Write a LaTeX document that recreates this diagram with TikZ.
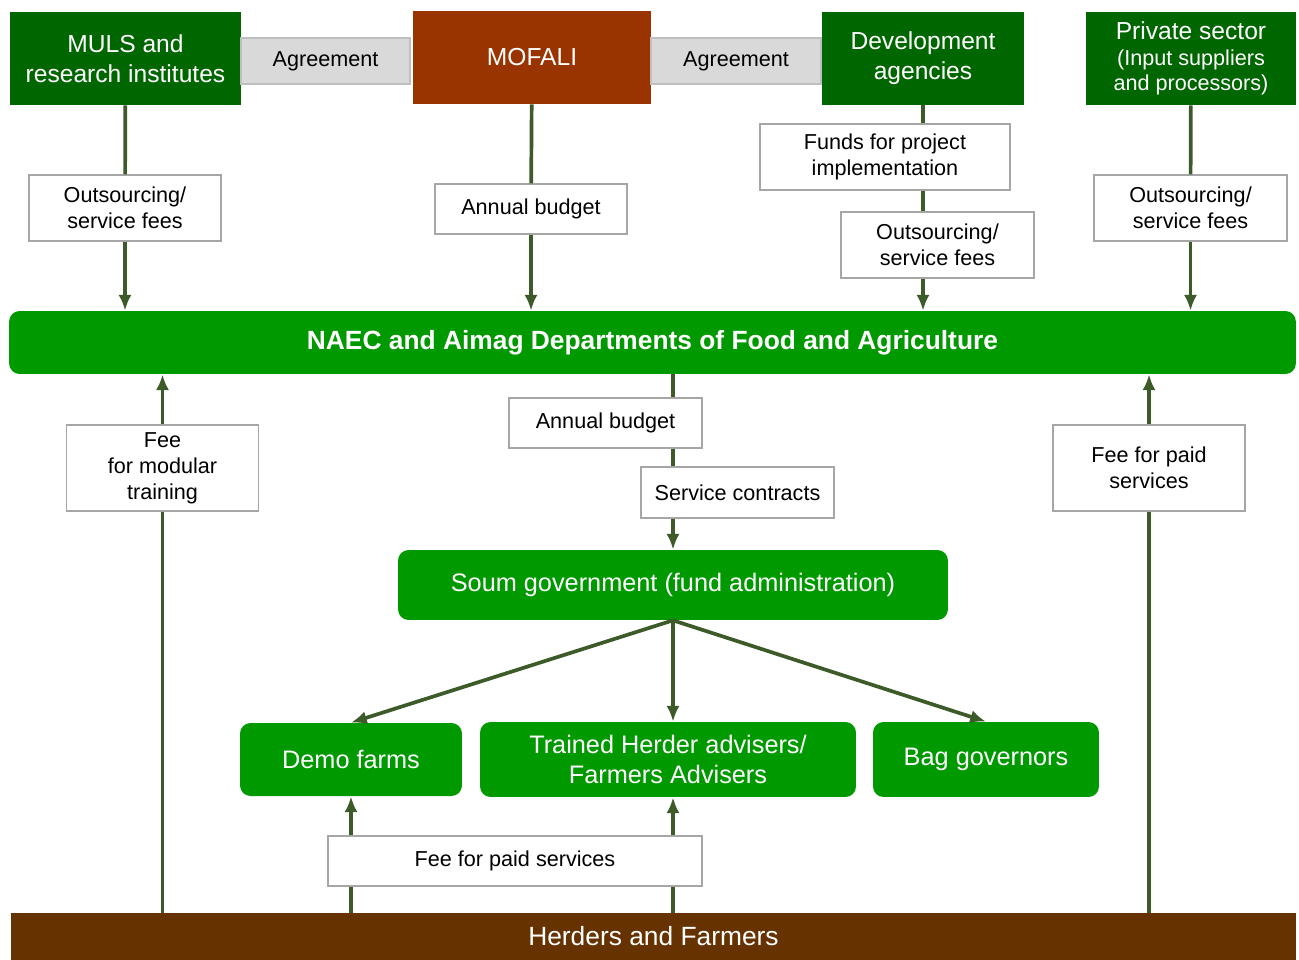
\documentclass[tikz,border=0pt]{standalone}
\usepackage{fontspec}
\setmainfont{Liberation Sans}
\usetikzlibrary{arrows.meta, positioning}
\definecolor{darkgreen}{RGB}{0,102,0}
\definecolor{midgreen}{RGB}{0,153,0}
\definecolor{rust}{RGB}{153,51,0}
\definecolor{soil}{RGB}{102,51,0}
\definecolor{flow}{RGB}{61,90,41}
\definecolor{agreegray}{RGB}{217,217,217}

\begin{document}
\begin{tikzpicture}[
    x=0.02cm, y=-0.02cm,
    >={Latex[length=9pt,width=7.5pt]},
    actor/.style={rectangle, fill=darkgreen, text=white, minimum height=1.86cm, inner sep=2pt, align=center, font=\fontsize{14}{17}\selectfont},
    agree/.style={rectangle, draw=gray!50, fill=agreegray, line width=0.8pt, minimum height=0.92cm, align=center, font=\fontsize{12.3}{14.7}\selectfont},
    tag/.style={rectangle, draw=gray!70, fill=white, line width=0.8pt, minimum width=3.84cm, minimum height=1.32cm, inner sep=2pt, align=center, font=\fontsize{12.3}{14.7}\selectfont},
    unit/.style={rectangle, fill=midgreen, text=white, rounded corners=6pt, align=center, font=\fontsize{14.4}{17}\selectfont},
    band/.style={rectangle, text=white, align=center},
    link/.style={line width=2.1pt, color=flow},
    arrow/.style={->, line width=2.1pt, color=flow}
]
\useasboundingbox (0,0) rectangle (1299,960);

% Top actors
\node[actor, minimum width=4.62cm] (muls) at (125.5,58.5) {MULS and\\research institutes};
\node[actor, fill=rust, minimum width=4.76cm] (mofali) at (532,57.5) {\raisebox{-2pt}{MOFALI}};
\node[actor, minimum width=4.04cm] (devag) at (923,58.5) {Development\\agencies};
\node[actor, minimum width=4.2cm, font=\fontsize{12.3}{14.7}\selectfont] (priv) at (1191,58.5) {{\fontsize{14}{15.9}\selectfont Private sector}\\(Input suppliers\\and processors)};

% Agreements
\node[agree, minimum width=3.38cm] (agr1) at (325.5,61) {\raisebox{-3pt}{Agreement}};
\node[agree, minimum width=3.4cm] (agr2) at (736,61) {\raisebox{-3pt}{Agreement}};

% Flows into NAEC
\node[tag] (out1) at (125,208) {Outsourcing/\\service fees};
\node[tag, minimum height=1cm] (budget1) at (531,209) {\raisebox{-2pt}{Annual budget}};
\node[tag, minimum width=5cm] (funds) at (885,157) {Funds for project\\implementation};
\node[tag, minimum width=3.86cm] (out2) at (937.5,245) {Outsourcing/\\service fees};
\node[tag, minimum width=3.86cm] (out3) at (1190.5,208) {Outsourcing/\\service fees};

% NAEC layer
\node[unit, minimum width=25.74cm, minimum height=1.26cm, font=\fontsize{15}{18}\selectfont\bfseries] (naec) at (652.5,342.5) {\raisebox{-3pt}{NAEC and Aimag Departments of Food and Agriculture}};

% Middle labels
\node[tag, minimum height=1.72cm] (feemod) at (162.5,468) {Fee\\for modular\\training};
\node[tag, minimum width=3.86cm, minimum height=1cm] (budget2) at (605.5,423) {\raisebox{-2pt}{Annual budget}};
\node[tag, minimum width=3.86cm, minimum height=1.02cm] (contracts) at (737.5,492.5) {\raisebox{-2pt}{Service contracts}};
\node[tag, minimum height=1.72cm] (feeright) at (1149,468) {Fee for paid\\services};

% Soum layer
\node[unit, minimum width=11cm, minimum height=1.4cm] (soum) at (673,585) {\raisebox{-3pt}{Soum government (fund administration)}};
\node[unit, minimum width=4.44cm, minimum height=1.46cm] (demo) at (351,759.5) {Demo farms};
\node[unit, minimum width=7.52cm, minimum height=1.5cm] (trained) at (668,759.5) {Trained Herder advisers/\\Farmers Advisers};
\node[unit, minimum width=4.52cm, minimum height=1.5cm] (bag) at (986,759.5) {\raisebox{-3pt}{Bag governors}};

% Bottom
\node[tag, minimum width=7.48cm, minimum height=1cm] (feebot) at (515,861) {\raisebox{-2pt}{Fee for paid services}};
\node[band, fill=soil, minimum width=25.7cm, minimum height=0.94cm, font=\fontsize{15}{18}\selectfont] (herders) at (653.5,936.5) {\raisebox{-3pt}{Herders and Farmers}};

% Connectors top
\draw[link] (muls) -- (out1);
\draw[arrow] (out1) -- (out1 |- naec.north);
\draw[link] (mofali) -- (budget1);
\draw[arrow] (budget1) -- (budget1 |- naec.north);
\draw[link] (devag.south) -- (devag.south |- funds.north);
\draw[link] (funds.south -| devag.south) -- (out2.north -| devag.south);
\draw[arrow] (out2.south -| devag.south) -- (devag.south |- naec.north);
\draw[link] (priv) -- (out3);
\draw[arrow] (out3) -- (out3 |- naec.north);

% Connectors middle
\draw[link] (naec.south -| soum.north) -- (budget2.north -| soum.north);
\draw[link] (budget2.south -| soum.north) -- (contracts.north -| soum.north);
\draw[arrow] (contracts.south -| soum.north) -- (soum.north);
\draw[link] (herders.north -| feemod) -- (feemod.south);
\draw[arrow] (feemod.north) -- (naec.south -| feemod);
\draw[link] (herders.north -| feeright) -- (feeright.south);
\draw[arrow] (feeright.north) -- (naec.south -| feeright);

% Soum to units
\draw[arrow] (soum.south) -- (demo.north);
\draw[arrow] (soum.south) -- (soum.south |- trained.north);
\draw[arrow] (soum.south) -- (bag.north);

% Fees from herders
\draw[link] (herders.north -| demo) -- (feebot.south -| demo);
\draw[arrow] (feebot.north -| demo) -- (demo.south);
\draw[link] (herders.north -| soum.south) -- (feebot.south -| soum.south);
\draw[arrow] (feebot.north -| soum.south) -- (trained.south -| soum.south);

\end{tikzpicture}
\end{document}
